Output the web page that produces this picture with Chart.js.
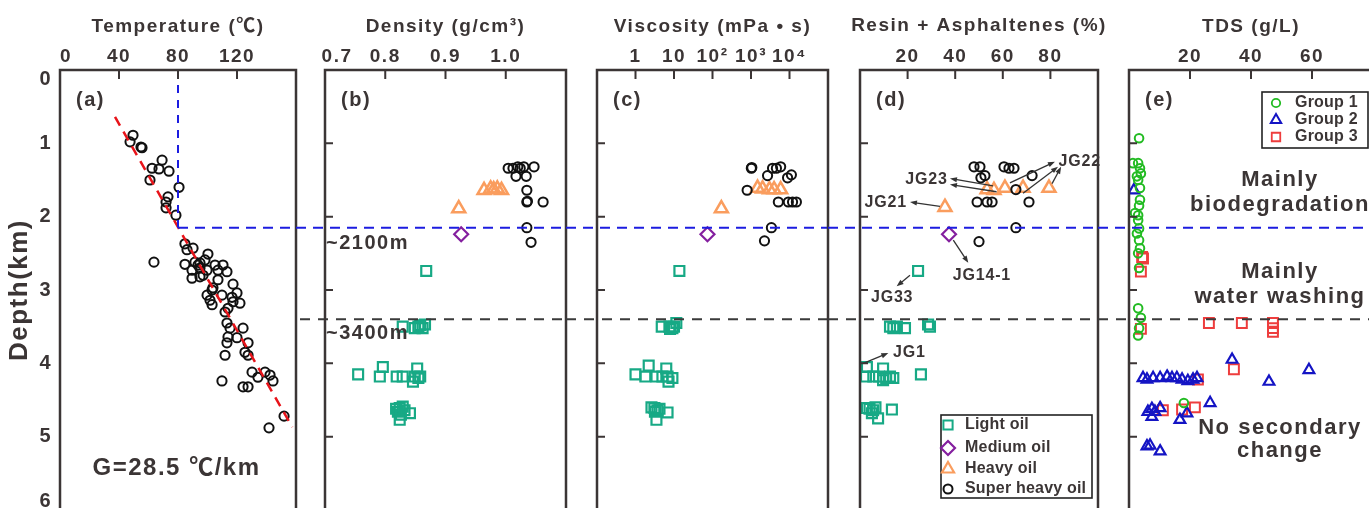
<!DOCTYPE html>
<html>
<head>
<meta charset="utf-8">
<script src="https://cdn.jsdelivr.net/npm/chart.js@4.4.1/dist/chart.umd.min.js"></script>
<style>
  html, body { margin: 0; padding: 0; overflow: hidden; background: #fff; width: 1369px; height: 508px; }
  #wrap { position: relative; width: 1380px; height: 512px; }
  #wrap canvas { position: absolute; left: 0; top: 0; }
</style>
</head>
<body>
<div id="wrap">
  <canvas id="pa" width="1380" height="512"></canvas>
  <canvas id="pb" width="1380" height="512"></canvas>
  <canvas id="pc" width="1380" height="512"></canvas>
  <canvas id="pd" width="1380" height="512"></canvas>
  <canvas id="pe" width="1380" height="512"></canvas>
</div>
<script>
// ---- data (x value, depth km) ----
const tempPoints = [
  [49.5,0.89],[47.5,0.98],[54.9,1.05],[55.6,1.06],[69.2,1.23],[62.4,1.34],[67.1,1.35],[73.9,1.38],
  [61.0,1.50],[80.7,1.60],[73.2,1.73],[71.9,1.80],[71.9,1.88],[78.6,1.98],
  [84.7,2.37],[90.2,2.43],[86.1,2.45],[100.3,2.51],[63.7,2.62],[84.7,2.65],[91.5,2.62],[94.9,2.63],
  [98.3,2.59],[105.1,2.66],[110.5,2.66],[93.6,2.66],[89.5,2.73],[94.9,2.70],[99.7,2.73],[107.1,2.73],
  [113.2,2.75],[89.5,2.84],[94.9,2.82],[97.0,2.80],[107.1,2.86],[117.3,2.92],[103.7,2.97],[103.1,3.00],
  [99.7,3.07],[109.8,3.07],[101.7,3.14],[103.1,3.20],[116.6,3.10],[120.0,3.04],[117.3,3.16],[122.0,3.18],
  [113.9,3.25],[111.9,3.30],[113.2,3.45],[115.3,3.52],[124.1,3.52],[113.9,3.64],[120.0,3.65],[113.2,3.72],
  [127.5,3.72],[125.4,3.85],[127.5,3.89],[111.9,3.89],[130.2,4.12],[134.2,4.19],[139.0,4.12],[142.4,4.16],
  [144.4,4.24],[109.8,4.24],[124.1,4.32],[127.5,4.32],[151.9,4.72],[141.7,4.88]
];
const tempTrendT = [37.3, 157.5];
const tempTrendDepth = [0.64, 4.87];

const densLight = [
  [0.868,2.74],[0.829,3.50],[0.849,3.52],[0.858,3.48],[0.866,3.47],[0.862,3.52],[0.855,3.50],
  [0.755,4.15],[0.791,4.18],[0.796,4.05],[0.819,4.18],[0.829,4.18],[0.853,4.07],[0.849,4.18],
  [0.858,4.18],[0.846,4.25],[0.855,4.20],
  [0.824,4.61],[0.821,4.66],[0.841,4.68],[0.824,4.77],[0.829,4.59],[0.818,4.62],[0.832,4.64],[0.826,4.70]
];
const densMedium = [[0.926,2.24]];
const densHeavy = [[0.922,1.89],[0.964,1.64],[0.975,1.62],[0.980,1.63],[0.986,1.62],[0.993,1.64]];
const densSuper = [
  [1.004,1.34],[1.012,1.34],[1.020,1.32],[1.024,1.34],[1.030,1.32],[1.047,1.32],[1.017,1.45],
  [1.034,1.45],[1.035,1.64],[1.035,1.80],[1.036,1.79],[1.062,1.80],[1.035,2.15],[1.042,2.35]
];

const viscLight = [
  [13.8,2.74],[4.8,3.50],[7.6,3.50],[11.5,3.45],[9.1,3.52],[10,3.50],[7.9,3.53],
  [1.0,4.15],[2.2,4.03],[1.8,4.18],[3.5,4.18],[6.3,4.07],[6.8,4.18],[9.1,4.20],[7.2,4.25],[5.0,4.18],
  [3.1,4.61],[3.7,4.64],[6.8,4.67],[3.5,4.77],[2.6,4.60],[3.2,4.66],[4.2,4.62]
];
const viscMedium = [[74,2.24]];
const viscHeavy = [[170,1.89],[1480,1.61],[2000,1.62],[3020,1.63],[3980,1.63],[5890,1.63]];
const viscSuper = [
  [1020,1.34],[1050,1.33],[3630,1.34],[4570,1.34],[5890,1.32],[2690,1.44],[8910,1.47],[11200,1.43],
  [794,1.64],[5130,1.80],[9330,1.80],[12000,1.80],[15100,1.80],[3390,2.15],[2240,2.33]
];

const resinLight = [
  [24.4,2.74],[12.6,3.50],[15.5,3.50],[18.9,3.52],[28.6,3.47],[29.4,3.50],[14.0,3.52],
  [2.9,4.05],[2.5,4.18],[5.6,4.18],[9.7,4.07],[9.7,4.23],[12.6,4.18],[14.0,4.20],[25.6,4.15],[8.0,4.18],[11.0,4.20],
  [2.9,4.61],[5.5,4.64],[7.6,4.75],[13.4,4.63],[5.0,4.68],[4.0,4.62],[6.5,4.60]
];
const resinMedium = [[37.4,2.24]];
const resinHeavy = [[35.7,1.87],[53.4,1.63],[56.3,1.64],[60.9,1.61],[68.5,1.61],[79.4,1.61]];
const resinSuper = [
  [47.9,1.32],[50.4,1.32],[60.5,1.32],[62.6,1.34],[64.7,1.34],[52.5,1.44],[50.8,1.47],[72.3,1.44],
  [65.5,1.63],[49.2,1.80],[53.4,1.80],[55.5,1.80],[71.0,1.80],[65.5,2.15],[50.0,2.34]
];

const tdsGroup1 = [
  [3.3,0.93],[1.3,1.27],[3.0,1.27],[3.6,1.34],[3.9,1.41],[2.6,1.45],[3.0,1.50],[3.6,1.61],[3.6,1.77],
  [3.3,1.85],[2.0,1.95],[3.0,1.98],[3.0,2.05],[3.3,2.16],[2.6,2.23],[3.3,2.32],[3.6,2.43],[3.0,2.50],
  [3.3,2.70],[3.0,3.25],[3.9,3.38],[3.3,3.52],[3.0,3.62],[18.0,4.54]
];
const tdsGroup2 = [
  [1.6,1.64],[33.8,3.95],[59.0,4.09],[45.9,4.25],[26.6,4.54],
  [4.6,4.20],[5.9,4.22],[7.9,4.20],[10.2,4.20],[12.5,4.18],[14.1,4.20],[15.7,4.20],[17.4,4.22],
  [19.3,4.24],[21.0,4.22],[22.3,4.20],
  [6.2,4.66],[7.5,4.62],[8.5,4.66],[10.2,4.61],[7.5,4.73],[16.7,4.77],[19.0,4.68],
  [5.9,5.13],[6.9,5.12],[10.2,5.20]
];
const tdsGroup3 = [
  [4.3,2.55],[4.6,2.57],[3.9,2.75],[3.9,3.53],[26.2,3.45],[37.0,3.45],[47.2,3.45],[47.2,3.52],
  [47.2,3.57],[34.4,4.08],[22.6,4.22],[11.1,4.64],[17.4,4.63],[21.6,4.60]
];

// annotation arrows in panel d: [fromX, fromDepth, toX, toDepth]
const arrowsD = [
  [63.0,1.54,81.9,1.25],[68.5,1.68,83.2,1.32],[80.7,1.55,84.5,1.32],
  [55.9,1.58,37.8,1.48],[57.4,1.66,37.8,1.56],[33.6,1.86,21.0,1.80],
  [39.2,2.32,45.5,2.63],[21.0,2.80,15.4,2.95],[1.4,4.00,11.9,3.86]
];
const labelsD = [
  ['JG22',83.4,1.25,'left'],['JG23',36.8,1.50,'right'],['JG21',19.7,1.81,'right'],
  ['JG14-1',39.0,2.80,'left'],['JG33',4.6,3.11,'left'],['JG1',13.9,3.86,'left']
];
const zoneLabels = [
  ['Mainly',1.50],['biodegradation',1.84],['Mainly',2.75],['water washing',3.09],
  ['No secondary',4.88],['change',5.20]
];
const depthTicks = [0,1,2,3,4,5,6];
const BIO_DEPTH = 2.15, WASH_DEPTH = 3.4;

// ---- look ----
const FONT = "'Liberation Sans', Arial, 'Noto Sans CJK SC', sans-serif";
const INK = '#3b3535';
const W = 1380, H = 512, TOP = 70, BOTTOM = 510;
const C_LIGHT = '#17a985', C_MED = '#841f9f', C_HEAVY = '#fa9d5e', C_SUPER = '#111111';
const C_G1 = '#22bb22', C_G2 = '#1414c4', C_G3 = '#ee3d3d';
const C_BLUE = '#1c1ce0', C_RED = '#e8141a';
const FIG = '\u2007'; // figure space, nudges edge labels inward like the original

const pts = arr => arr.map(([x, y]) => ({ x, y }));

function series(label, data, style, color, radius, bw) {
  return {
    type: 'scatter', label, data: pts(data), showLine: false,
    pointStyle: style, pointRadius: radius, pointHoverRadius: radius,
    pointBorderColor: color, pointBackgroundColor: 'rgba(0,0,0,0)', pointBorderWidth: bw,
    borderColor: color
  };
}
const light = d => series('Light oil', d, 'rect', C_LIGHT, 7, 2.2);
const medium = d => series('Medium oil', d, 'rectRot', C_MED, 7, 2.2);
const heavy = d => series('Heavy oil', d, 'triangle', C_HEAVY, 7.5, 2.5);
const superH = d => series('Super heavy oil', d, 'circle', C_SUPER, 4.6, 2);

function txt(ctx, s, x, y, size, align, spacing) {
  ctx.font = 'bold ' + size + 'px ' + FONT;
  ctx.letterSpacing = (spacing || 0) + 'px';
  ctx.textAlign = align || 'left';
  ctx.textBaseline = 'middle';
  ctx.fillStyle = INK;
  ctx.fillText(s, x, y);
}

function hLine(ctx, x0, x1, y, color, dash) {
  ctx.save();
  ctx.strokeStyle = color; ctx.lineWidth = 2; ctx.setLineDash(dash);
  ctx.beginPath(); ctx.moveTo(x0, y); ctx.lineTo(x1, y); ctx.stroke();
  ctx.restore();
}

function arrow(ctx, x0, y0, x1, y1) {
  const ang = Math.atan2(y1 - y0, x1 - x0), L = 7, w = 2.6;
  ctx.strokeStyle = '#333'; ctx.fillStyle = '#333'; ctx.lineWidth = 1.3;
  ctx.beginPath(); ctx.moveTo(x0, y0);
  ctx.lineTo(x1 - Math.cos(ang) * L * 0.8, y1 - Math.sin(ang) * L * 0.8); ctx.stroke();
  ctx.beginPath(); ctx.moveTo(x1, y1);
  ctx.lineTo(x1 - Math.cos(ang) * L - Math.sin(ang) * w, y1 - Math.sin(ang) * L + Math.cos(ang) * w);
  ctx.lineTo(x1 - Math.cos(ang) * L + Math.sin(ang) * w, y1 - Math.sin(ang) * L - Math.cos(ang) * w);
  ctx.closePath(); ctx.fill();
}

function legendBox(ctx, x, y, w, h, rows, rowY, markX, textX, size) {
  ctx.fillStyle = '#fff'; ctx.fillRect(x, y, w, h);
  ctx.strokeStyle = '#222'; ctx.lineWidth = 1.6; ctx.setLineDash([]);
  ctx.strokeRect(x, y, w, h);
  rows.forEach((r, i) => {
    ctx.strokeStyle = r.pointBorderColor; ctx.fillStyle = 'rgba(0,0,0,0)';
    ctx.lineWidth = r.pointBorderWidth;
    Chart.helpers.drawPoint(ctx, { pointStyle: r.pointStyle, rotation: 0, radius: r.legendR, borderWidth: r.pointBorderWidth }, markX, rowY[i]);
    txt(ctx, r.label, textX, rowY[i], size, 'left', 0.2);
  });
}

function decor(cfg) {
  return {
    id: 'decor',
    beforeDraw(chart) { chart.ctx.letterSpacing = '1.5px'; },
    afterDatasetsDraw(chart) {
      const { ctx, chartArea: a } = chart;
      const x = chart.scales.x, y = chart.scales.y;
      ctx.save();
      // reference lines
      const yb = y.getPixelForValue(BIO_DEPTH), yw = y.getPixelForValue(WASH_DEPTH);
      const bStart = cfg.blueFrom != null ? cfg.blueFrom : x.getPixelForValue(80);
      hLine(ctx, bStart, cfg.open ? W : a.right, yb, C_BLUE, [10, 7]);
      if (cfg.blackFrom != null) hLine(ctx, cfg.blackFrom, cfg.open ? W : a.right, yw, '#3a3a3a', [10, 8]);
      if (cfg.extra) cfg.extra(chart, ctx, a, x, y);
      // frame
      ctx.strokeStyle = INK; ctx.lineWidth = 2.5; ctx.setLineDash([]);
      ctx.beginPath();
      if (cfg.open) {
        ctx.moveTo(W, a.top); ctx.lineTo(a.left, a.top); ctx.lineTo(a.left, a.bottom + 4);
      } else {
        ctx.rect(a.left, a.top, a.right - a.left, a.bottom - a.top);
      }
      ctx.stroke();
      // inner ticks
      ctx.lineWidth = 2;
      ctx.beginPath();
      x.ticks.forEach(t => {
        const px = x.getPixelForValue(t.value);
        ctx.moveTo(px, a.top); ctx.lineTo(px, a.top + 9);
      });
      if (!cfg.yAxis) {
        depthTicks.slice(1, 6).forEach(d => {
          const py = y.getPixelForValue(d);
          ctx.moveTo(a.left, py); ctx.lineTo(a.left + 8, py);
        });
      }
      ctx.stroke();
      // axis title drawn by hand where it is wider than the panel
      if (cfg.wideTitle) txt(ctx, cfg.wideTitle, (a.left + a.right) / 2, 26, 19, 'center', 1.5);
      // panel tag
      txt(ctx, '(' + cfg.tag + ')', a.left + 16, a.top + 30, 20, 'left', 1.5);
      ctx.restore();
    }
  };
}

function depthLabel(v) {
  if (v === 0) return ['', '0'];
  if (v === 6) return ['6', ''];
  return String(v);
}

function makePanel(id, cfg) {
  const tickFont = { family: FONT, size: 19, weight: 'bold' };
  return new Chart(document.getElementById(id), {
    type: 'scatter',
    data: { datasets: cfg.datasets },
    options: {
      responsive: false, animation: false, devicePixelRatio: 1, events: [],
      layout: { autoPadding: false, padding: { left: cfg.yAxis ? 0 : cfg.left, right: W - cfg.right, top: 0, bottom: H - BOTTOM } },
      plugins: { legend: { display: false }, tooltip: { enabled: false } },
      scales: {
        x: {
          type: cfg.xType || 'linear', position: 'top', min: cfg.min, max: cfg.max,
          grid: { display: false, drawTicks: false }, border: { display: false },
          afterBuildTicks: s => { s.ticks = cfg.ticks.map(v => ({ value: v })); },
          ticks: { color: INK, padding: 2, font: tickFont, maxRotation: 0, autoSkip: false, callback: cfg.fmt },
          title: { display: !cfg.wideTitle, text: cfg.title, color: INK, font: tickFont, padding: { top: 15, bottom: 0 } },
          afterFit: s => { s.height = TOP; s.paddingLeft = 0; s.paddingRight = 0; }
        },
        y: {
          type: 'linear', min: 0, max: 6, reverse: true, position: 'left', display: !!cfg.yAxis,
          afterBuildTicks: s => { s.ticks = depthTicks.map(v => ({ value: v })); },
          grid: { display: false, drawTicks: false }, border: { display: false },
          ticks: { color: INK, padding: 8, font: { family: FONT, size: 20, weight: 'bold', lineHeight: 0.9 }, callback: depthLabel },
          title: { display: true, text: 'Depth(km)', color: INK, font: { family: FONT, size: 26, weight: 'bold' }, padding: { top: 4, bottom: 0 } },
          afterFit: s => { s.width = cfg.yAxis ? 60 : 0; s.paddingTop = 0; s.paddingBottom = 0; }
        }
      }
    },
    plugins: [decor(cfg)]
  });
}

// (a) temperature
makePanel('pa', {
  tag: 'a', yAxis: true, right: 296, min: 0, max: 160, ticks: [0, 40, 80, 120],
  fmt: v => (v === 0 ? FIG : '') + String(v), title: 'Temperature (\u2103)',
  datasets: [
    { type: 'line', label: 'trend', data: tempTrendT.map((t, i) => ({ x: t, y: tempTrendDepth[i] })),
      borderColor: C_RED, borderWidth: 2.5, borderDash: [10, 7], pointRadius: 0, fill: false, showLine: true },
    series('Temperature', tempPoints, 'circle', C_SUPER, 4.6, 2)
  ],
  extra(chart, ctx, a, x, y) {
    const px = x.getPixelForValue(80);
    ctx.save();
    ctx.strokeStyle = C_BLUE; ctx.lineWidth = 2; ctx.setLineDash([8, 7]);
    ctx.beginPath(); ctx.moveTo(px, a.top); ctx.lineTo(px, y.getPixelForValue(BIO_DEPTH)); ctx.stroke();
    ctx.restore();
    txt(ctx, 'G=28.5 \u2103/km', x.getPixelForValue(79), y.getPixelForValue(5.43), 24, 'center', 1.5);
  }
});

// (b) density
makePanel('pb', {
  tag: 'b', left: 325, right: 566, min: 0.7, max: 1.1, ticks: [0.7, 0.8, 0.9, 1.0],
  fmt: v => (Math.abs(v - 0.7) < 1e-9 ? FIG + FIG : '') + Number(v).toFixed(1),
  title: 'Density (g/cm\u00b3)', blueFrom: 296, blackFrom: 300,
  datasets: [superH(densSuper), heavy(densHeavy), medium(densMedium), light(densLight)],
  extra(chart, ctx, a, x, y) {
    txt(ctx, '~2100m', a.left + 1, y.getPixelForValue(2.36), 20, 'left', 1.5);
    txt(ctx, '~3400m', a.left + 1, y.getPixelForValue(3.59), 20, 'left', 1.5);
  }
});

// (c) viscosity
const viscLabels = { 0: '1', 1: '10', 2: '10\u00b2', 3: '10\u00b3', 4: '10\u2074' };
makePanel('pc', {
  tag: 'c', left: 597, right: 828, xType: 'logarithmic', min: 0.1, max: 1e5,
  ticks: [1, 10, 100, 1000, 10000], fmt: v => viscLabels[Math.round(Math.log10(v))],
  title: 'Viscosity (mPa \u2022 s)', blueFrom: 566, blackFrom: 566,
  datasets: [superH(viscSuper), heavy(viscHeavy), medium(viscMedium), light(viscLight)]
});

// (d) resin + asphaltenes
makePanel('pd', {
  tag: 'd', left: 860, right: 1098, min: 0, max: 100, ticks: [20, 40, 60, 80],
  fmt: v => String(v), wideTitle: 'Resin + Asphaltenes (%)', blueFrom: 828, blackFrom: 828,
  datasets: [superH(resinSuper), heavy(resinHeavy), medium(resinMedium), light(resinLight)],
  extra(chart, ctx, a, x, y) {
    ctx.save();
    arrowsD.forEach(([x0, d0, x1, d1]) => arrow(ctx, x.getPixelForValue(x0), y.getPixelForValue(d0), x.getPixelForValue(x1), y.getPixelForValue(d1)));
    ctx.restore();
    labelsD.forEach(([s, v, d, al]) => txt(ctx, s, x.getPixelForValue(v), y.getPixelForValue(d), 16, al, 0.8));
  }
});

// (e) TDS
makePanel('pe', {
  tag: 'e', left: 1129, right: 1373, min: 0, max: 80, ticks: [20, 40, 60], open: true,
  fmt: v => String(v), title: 'TDS (g/L)', blueFrom: 1098, blackFrom: 1098,
  datasets: [
    series('Group 1', tdsGroup1, 'circle', C_G1, 4.3, 2),
    series('Group 2', tdsGroup2, 'triangle', C_G2, 6.2, 2.2),
    series('Group 3', tdsGroup3, 'rect', C_G3, 7, 2)
  ],
  extra(chart, ctx, a, x, y) {
    zoneLabels.forEach(([s, d]) => txt(ctx, s, x.getPixelForValue(49.5), y.getPixelForValue(d), 22, 'center', 1.5));
  }
});

// legends drawn on top of panels d and e
(function () {
  const cd = Chart.getChart('pd'), ce = Chart.getChart('pe');
  const addLegend = (chart, fn) => {
    chart.config.plugins.push({ id: 'lg', afterDraw: c => { c.ctx.save(); fn(c.ctx, c.chartArea); c.ctx.restore(); } });
    chart.update();
  };
  const rD = [[C_LIGHT, 'rect', 'Light oil', 6.5, 2], [C_MED, 'rectRot', 'Medium oil', 7, 2.2], [C_HEAVY, 'triangle', 'Heavy oil', 7, 2.2], [C_SUPER, 'circle', 'Super heavy oil', 4.5, 2]];
  const rE = [[C_G1, 'circle', 'Group 1', 4.2, 1.8], [C_G2, 'triangle', 'Group 2', 6, 2], [C_G3, 'rect', 'Group 3', 6, 1.8]];
  const toRows = rs => rs.map(([c, st, l, r, bw]) => ({ pointBorderColor: c, pointStyle: st, label: l, legendR: r, pointBorderWidth: bw }));
  addLegend(cd, (ctx, a) => legendBox(ctx, a.left + 81, a.top + 345, 151, 83, toRows(rD), [a.top + 355, a.top + 378, a.top + 399, a.top + 419], a.left + 88, a.left + 105, 16));
  addLegend(ce, (ctx, a) => legendBox(ctx, a.left + 133, a.top + 22, 106, 56, toRows(rE), [a.top + 33, a.top + 50, a.top + 67], a.left + 147, a.left + 166, 16));
})();
</script>
</body>
</html>
